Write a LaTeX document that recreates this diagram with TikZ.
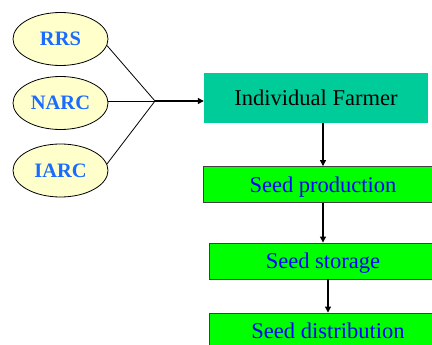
\documentclass[tikz,border=0pt]{standalone}
\usepackage{fontspec}
\setmainfont{Liberation Serif}
\usetikzlibrary{shapes.geometric,arrows.meta}

\definecolor{ellfill}{HTML}{FFFFCC}
\definecolor{elltext}{HTML}{1A6CFF}
\definecolor{farmfill}{HTML}{00CC99}
\definecolor{stepfill}{HTML}{00FF00}
\definecolor{steptext}{HTML}{0000FF}
\definecolor{stepline}{HTML}{404040}

\tikzset{
    source/.style={ellipse, draw, line width=0.8pt, fill=ellfill, minimum width=95pt,
        minimum height=53pt, inner sep=0pt, text=elltext,
        font=\fontsize{20.5}{22}\selectfont\bfseries},
    farmbox/.style={rectangle, fill=farmfill, minimum width=224pt, minimum height=50pt,
        inner sep=0pt, text depth=0pt, font=\fontsize{22.5}{26}\selectfont},
    stagebox/.style={rectangle, draw=stepline, line width=0.9pt, fill=stepfill,
        minimum height=36pt, inner sep=0pt, text depth=0pt, text=steptext,
        font=\fontsize{22.5}{26}\selectfont},
    link/.style={line width=0.8pt},
    flow/.style={-{Triangle[length=6pt,width=6pt]}, line width=1.2pt}
}

\begin{document}
\begin{tikzpicture}[x=1pt,y=-1pt]
    \useasboundingbox (0,0) rectangle (432,345);
    \clip (0,0) rectangle (432,345);

    % Sources of seed
    \node[source] (rrs) at (60.5,39) {RRS};
    \node[source] (narc) at (60.5,103) {NARC};
    \node[source] (iarc) at (60.5,170.5) {IARC};
    \coordinate (hub) at (155,101);

    % Farmer and seed stages
    \node[farmbox] (farmer) at (316,98) {Individual Farmer};
    \node[stagebox, minimum width=240pt] (prod) at (323,184.5) {Seed production};
    \node[stagebox, minimum width=228pt] (store) at (323,261) {Seed storage};
    \node[stagebox, minimum width=238pt] (dist) at (328,331) {Seed distribution};

    % Links from the sources
    \draw[link] (rrs.-8) -- (hub);
    \draw[link] (hub -| narc.east) -- (hub);
    \draw[link] (iarc.8) -- (hub);
    \draw[flow] (hub) -- (hub -| farmer.west);

    % Steps down the chain
    \draw[flow] (farmer.south -| prod) -- (prod.north);
    \draw[flow] (prod.south) -- (store.north);
    \draw[flow] (store.south -| dist) -- (dist.north);
\end{tikzpicture}
\end{document}
